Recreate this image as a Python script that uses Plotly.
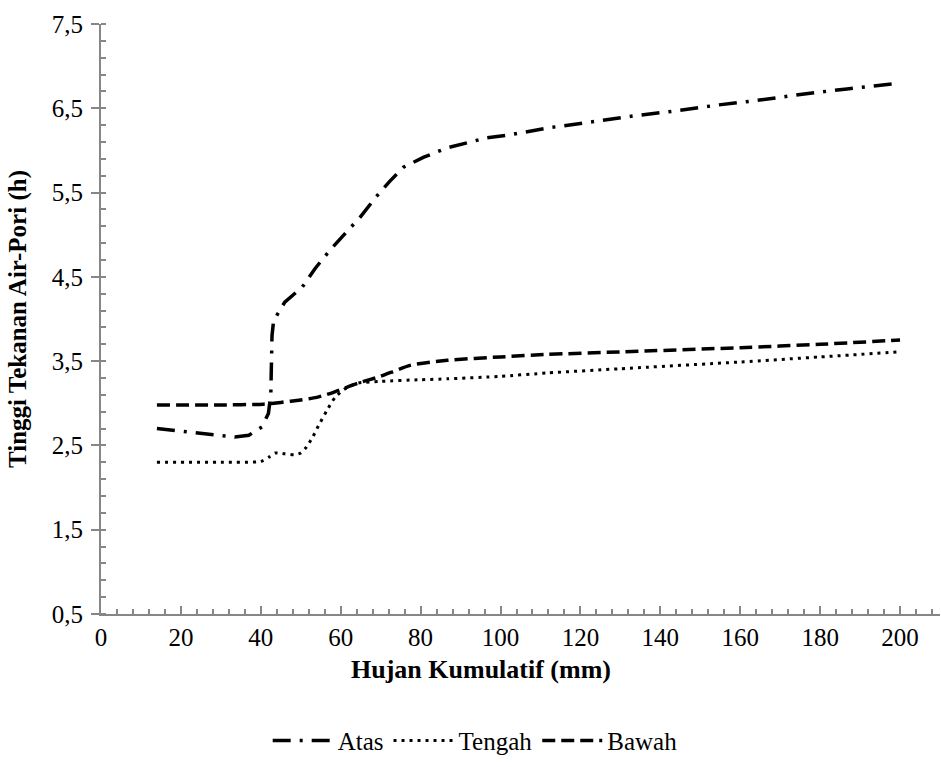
import plotly.graph_objects as go

# Data
atas_x = [14, 22, 28, 33.5, 37, 40.3, 41.9, 42.5, 42.8, 43.2, 46, 50.4, 53.6, 57.2, 61.2, 64.9, 68.7,
          72.2, 75.7, 80.8, 86.6, 91.2, 96.6, 101.7, 107, 112.3, 123, 133.4, 144, 154.6, 165.4, 176, 186.7, 200]
atas_y = [2.70, 2.66, 2.62, 2.60, 2.62, 2.72, 2.88, 3.10, 3.80, 3.98, 4.20, 4.38, 4.60, 4.81, 5.02, 5.21, 5.44,
          5.63, 5.80, 5.92, 6.03, 6.09, 6.15, 6.18, 6.23, 6.27, 6.34, 6.41, 6.47, 6.54, 6.60, 6.67, 6.73, 6.80]

tengah_x = [14, 30, 40, 42, 43.6, 46, 48.5, 50, 51.4, 53, 54.4, 56.6, 58.6, 61, 64.4, 70, 80, 86.7,
            100, 111.8, 130, 160, 180, 200]
tengah_y = [2.30, 2.30, 2.31, 2.36, 2.41, 2.40, 2.39, 2.41, 2.48, 2.60, 2.73, 2.92, 3.07, 3.17, 3.24, 3.26,
            3.28, 3.29, 3.32, 3.36, 3.41, 3.49, 3.55, 3.61]

bawah_x = [14, 30, 40.6, 45, 50, 54, 58.2, 64.4, 70, 77.4, 86.7, 100, 111.8, 130, 160, 180, 200]
bawah_y = [2.98, 2.98, 2.99, 3.01, 3.04, 3.07, 3.13, 3.24, 3.32, 3.45, 3.51, 3.55, 3.58, 3.61, 3.66, 3.70, 3.75]

x_ticks = list(range(0, 201, 20))
y_ticks = [0.5, 1.5, 2.5, 3.5, 4.5, 5.5, 6.5, 7.5]
y_ticktext = ["0,5", "1,5", "2,5", "3,5", "4,5", "5,5", "6,5", "7,5"]

x_title = "Hujan Kumulatif (mm)"
y_title = "Tinggi Tekanan Air-Pori (h)"

FONT = "Liberation Serif"
AX = "#868686"

fig = go.Figure()
fig.add_trace(go.Scatter(x=atas_x, y=atas_y, mode="lines", name="Atas",
                         line=dict(color="black", width=3.5, dash="18px,9px,3px,9px")))
fig.add_trace(go.Scatter(x=tengah_x, y=tengah_y, mode="lines", name="Tengah",
                         line=dict(color="black", width=3, dash="3px,5px", shape="spline", smoothing=0.6)))
fig.add_trace(go.Scatter(x=bawah_x, y=bawah_y, mode="lines", name="Bawah",
                         line=dict(color="black", width=3.5, dash="13px,6px", shape="spline", smoothing=0.6)))

fig.update_layout(
    width=941, height=767,
    margin=dict(l=101, r=1, t=24, b=153),
    paper_bgcolor="white", plot_bgcolor="white",
    font=dict(family=FONT, size=25, color="black"),
    showlegend=True,
    legend=dict(orientation="h", x=0.446, xanchor="center", y=-0.215, yanchor="middle",
                font=dict(family=FONT, size=25), itemwidth=60, tracegroupgap=0),
    xaxis=dict(range=[0, 210], tickvals=x_ticks, showgrid=False, zeroline=False,
               showline=True, linecolor=AX, linewidth=2,
               ticks="inside", ticklen=8, tickcolor=AX, tickwidth=1.5,
               minor=dict(dtick=4, ticks="inside", ticklen=5, tickcolor=AX, tickwidth=1.5),
               tickfont=dict(family=FONT, size=25), ticklabelstandoff=0),
    yaxis=dict(range=[0.5, 7.5], tickvals=y_ticks, ticktext=y_ticktext, showgrid=False, zeroline=False,
               showline=True, linecolor=AX, linewidth=2,
               ticks="outside", ticklen=8, tickcolor=AX, tickwidth=1.5,
               minor=dict(dtick=0.2, tick0=0.5, ticks="inside", ticklen=5, tickcolor=AX, tickwidth=1.5),
               tickfont=dict(family=FONT, size=25), ticklabelstandoff=3),
    xaxis2=dict(range=[0, 210], overlaying="x", anchor="y", side="bottom", tickvals=x_ticks,
                showticklabels=False, showgrid=False, zeroline=False, showline=False,
                ticks="outside", ticklen=8, tickcolor=AX, tickwidth=1.5),
    yaxis2=dict(range=[0.5, 7.5], overlaying="y", anchor="x", side="left", tickvals=y_ticks,
                showticklabels=False, showgrid=False, zeroline=False, showline=False,
                ticks="inside", ticklen=8, tickcolor=AX, tickwidth=1.5),
    annotations=[
        dict(text="<b>" + x_title + "</b>", xref="paper", yref="paper", x=0.4529, y=-0.0949,
             xanchor="center", yanchor="middle", showarrow=False, font=dict(family=FONT, size=26)),
        dict(text="<b>" + y_title + "</b>", xref="paper", yref="paper", x=-0.0989, y=0.5,
             xanchor="center", yanchor="middle", textangle=-90, showarrow=False,
             font=dict(family=FONT, size=25)),
    ],
)

fig.write_html("out.html")
